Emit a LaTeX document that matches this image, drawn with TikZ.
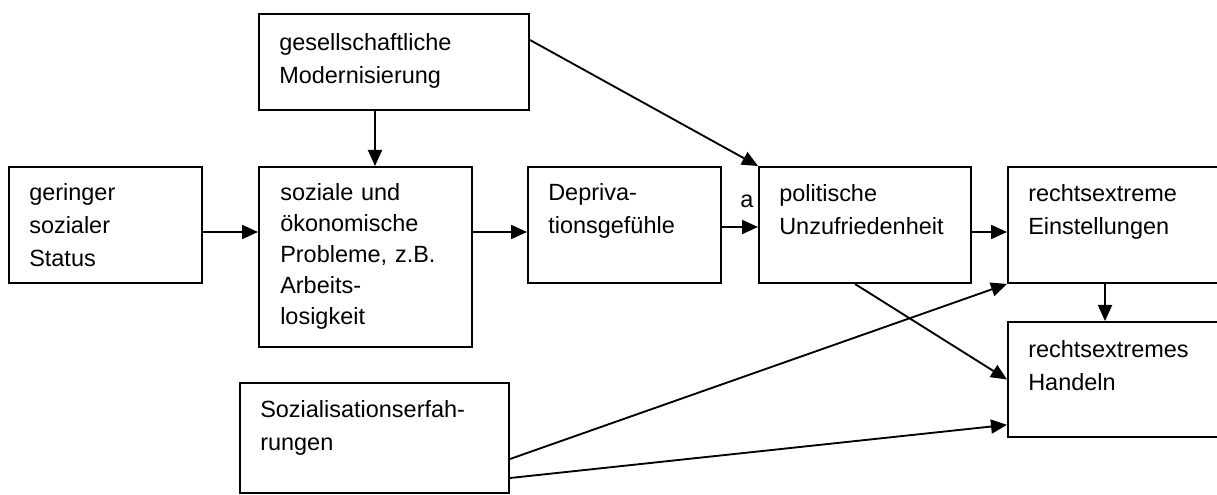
\documentclass[tikz,border=0pt]{standalone}
\usepackage{fontspec}
\setmainfont{Liberation Sans}
\usetikzlibrary{arrows.meta,fit}
\begin{document}
\begin{tikzpicture}[x=0.75pt,y=-0.75pt,
  box/.style={draw,line width=1.5pt,inner sep=0pt},
  txt/.style={inner sep=0pt,anchor=base west,align=left,text width=240pt,
    font=\fontsize{17.6}{24.75}\selectfont},
  arr/.style={line width=1.4pt,-{Triangle[length=12pt,width=10.5pt]}}]
\useasboundingbox (0,0) rectangle (1217,495);
\clip (0,0) rectangle (1217,495);
\fill[white] (0,0) rectangle (1217,495);
% boxes
\node[box,fit={(9,167) (202,283)}] (G) {};
\node[box,fit={(259,167) (472,347)}] (S) {};
\node[box,fit={(259,14) (529,110)}] (M) {};
\node[box,fit={(528,167) (721,283)}] (D) {};
\node[box,fit={(759,167) (971,283)}] (P) {};
\node[box,fit={(1008,167) (1240,283)}] (E) {};
\node[box,fit={(1008,322) (1240,437)}] (H) {};
\node[box,fit={(240,383) (509,493)}] (Z) {};
% texts
\node[txt] (Gt) at ([shift={(21,35)}]G.north west) {geringer\\sozialer\\Status};
\node[txt,font=\fontsize{17.6}{23.25}\selectfont] (St) at ([shift={(22,35)}]S.north west) {soziale und\\ökonomische\\Probleme, z.B.\\Arbeits-\\losigkeit};
\node[txt] (Mt) at ([shift={(21,38)}]M.north west) {gesellschaftliche\\Modernisierung};
\node[txt] (Dt) at ([shift={(21,35)}]D.north west) {Depriva-\\tionsgefühle};
\node[txt] (Pt) at ([shift={(21,36)}]P.north west) {politische\\Unzufriedenheit};
\node[txt] (Et) at ([shift={(21,36)}]E.north west) {rechtsextreme\\Einstellungen};
\node[txt] (Ht) at ([shift={(21,36)}]H.north west) {rechtsextremes\\Handeln};
\node[txt] (Zt) at ([shift={(21,35)}]Z.north west) {Sozialisationserfah-\\rungen};
\node[txt,text width=] (a) at (740,208) {a};
% connectors
\draw[arr] ([yshift=-5.25pt]G.east) -- ([yshift=-5.25pt]G.east -| S.west);
\draw[arr] ([yshift=-5.25pt]D.west -| S.east) -- ([yshift=-5.25pt]D.west);
\draw[arr] ([yshift=-1.5pt]D.east) -- ([yshift=-1.5pt]D.east -| P.west);
\draw[arr] ([yshift=-5.25pt]P.east) -- ([yshift=-5.25pt]P.east -| E.west);
\draw[arr] ([xshift=-14.25pt]M.south) -- ([xshift=-14.25pt]M.south |- S.north);
\draw[arr] ([xshift=-14.25pt]E.south) -- ([xshift=-14.25pt]E.south |- H.north);
\draw[arr] ([yshift=16.5pt]M.east) -- (P.north west);
\draw[arr] ([xshift=-7.5pt]P.south) -- (H.west);
\draw[arr] ([yshift=-15.75pt]Z.east) -- (E.south west);
\draw[arr] ([yshift=-30pt]Z.east) -- ([yshift=-34pt]H.west);
\end{tikzpicture}
\end{document}
